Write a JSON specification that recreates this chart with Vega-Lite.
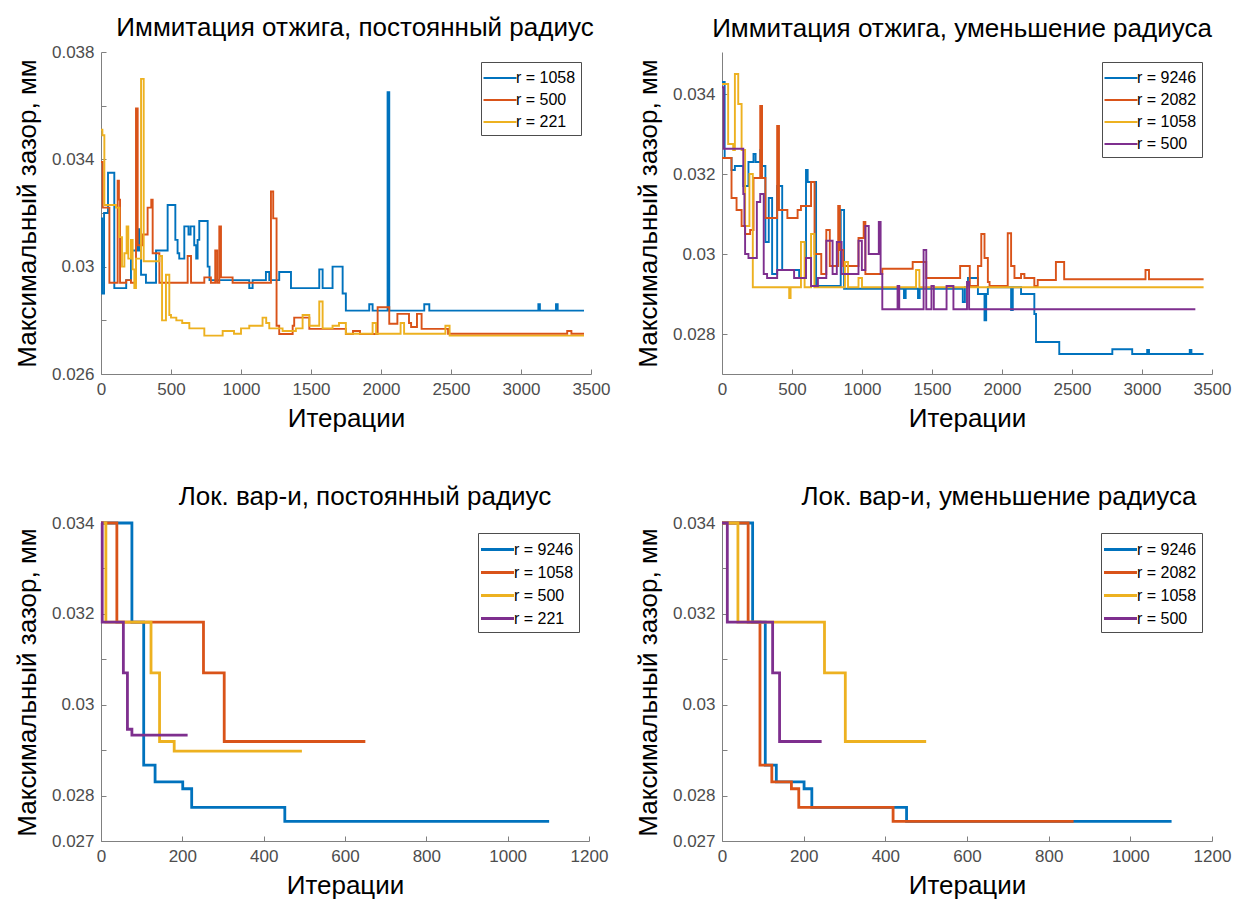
{
  "$schema": "https://vega.github.io/schema/vega-lite/v6.json",
  "padding": {"left": 14, "top": 15, "right": 2, "bottom": 2},
  "background": "white",
  "columns": 2,
  "spacing": {"row": 149, "column": 131},
  "bounds": "flush",
  "resolve": {"scale": {"color": "independent"}, "legend": {"color": "independent"}},
  "datasets": {
    "tl": [
      {"it":0,"v":0.0318,"r":"r = 1058"},{"it":8,"v":0.0290,"r":"r = 1058"},{"it":22,"v":0.0320,"r":"r = 1058"},{"it":50,"v":0.0335,"r":"r = 1058"},{"it":95,"v":0.0292,"r":"r = 1058"},{"it":180,"v":0.0295,"r":"r = 1058"},{"it":214,"v":0.0306,"r":"r = 1058"},{"it":262,"v":0.0314,"r":"r = 1058"},{"it":274,"v":0.0306,"r":"r = 1058"},{"it":286,"v":0.0297,"r":"r = 1058"},{"it":321,"v":0.0294,"r":"r = 1058"},{"it":393,"v":0.0306,"r":"r = 1058"},{"it":476,"v":0.0323,"r":"r = 1058"},{"it":531,"v":0.0310,"r":"r = 1058"},{"it":547,"v":0.0305,"r":"r = 1058"},{"it":559,"v":0.0303,"r":"r = 1058"},{"it":595,"v":0.0315,"r":"r = 1058"},{"it":625,"v":0.0312,"r":"r = 1058"},{"it":640,"v":0.0315,"r":"r = 1058"},{"it":666,"v":0.0308,"r":"r = 1058"},{"it":680,"v":0.0303,"r":"r = 1058"},{"it":690,"v":0.0310,"r":"r = 1058"},{"it":702,"v":0.0317,"r":"r = 1058"},{"it":762,"v":0.0300,"r":"r = 1058"},{"it":775,"v":0.0295,"r":"r = 1058"},{"it":1059,"v":0.0292,"r":"r = 1058"},{"it":1083,"v":0.0295,"r":"r = 1058"},{"it":1178,"v":0.0298,"r":"r = 1058"},{"it":1202,"v":0.0295,"r":"r = 1058"},{"it":1273,"v":0.0298,"r":"r = 1058"},{"it":1357,"v":0.0292,"r":"r = 1058"},{"it":1559,"v":0.0299,"r":"r = 1058"},{"it":1583,"v":0.0292,"r":"r = 1058"},{"it":1654,"v":0.0300,"r":"r = 1058"},{"it":1726,"v":0.0290,"r":"r = 1058"},{"it":1749,"v":0.02836,"r":"r = 1058"},{"it":1916,"v":0.0286,"r":"r = 1058"},{"it":1940,"v":0.02836,"r":"r = 1058"},{"it":2047,"v":0.0365,"r":"r = 1058"},{"it":2059,"v":0.02836,"r":"r = 1058"},{"it":2309,"v":0.0286,"r":"r = 1058"},{"it":2345,"v":0.02836,"r":"r = 1058"},{"it":3124,"v":0.0286,"r":"r = 1058"},{"it":3135,"v":0.02836,"r":"r = 1058"},{"it":3250,"v":0.0286,"r":"r = 1058"},{"it":3262,"v":0.02836,"r":"r = 1058"},{"it":3450,"v":0.02836,"r":"r = 1058"},
      {"it":0,"v":0.0339,"r":"r = 500"},{"it":12,"v":0.0322,"r":"r = 500"},{"it":60,"v":0.0294,"r":"r = 500"},{"it":119,"v":0.0332,"r":"r = 500"},{"it":128,"v":0.0325,"r":"r = 500"},{"it":136,"v":0.0294,"r":"r = 500"},{"it":180,"v":0.0295,"r":"r = 500"},{"it":214,"v":0.0294,"r":"r = 500"},{"it":250,"v":0.0359,"r":"r = 500"},{"it":262,"v":0.0308,"r":"r = 500"},{"it":300,"v":0.0312,"r":"r = 500"},{"it":333,"v":0.0322,"r":"r = 500"},{"it":359,"v":0.0325,"r":"r = 500"},{"it":369,"v":0.0305,"r":"r = 500"},{"it":417,"v":0.0294,"r":"r = 500"},{"it":619,"v":0.0304,"r":"r = 500"},{"it":643,"v":0.0294,"r":"r = 500"},{"it":738,"v":0.0296,"r":"r = 500"},{"it":785,"v":0.0294,"r":"r = 500"},{"it":816,"v":0.0306,"r":"r = 500"},{"it":830,"v":0.0294,"r":"r = 500"},{"it":845,"v":0.0315,"r":"r = 500"},{"it":857,"v":0.0296,"r":"r = 500"},{"it":940,"v":0.0294,"r":"r = 500"},{"it":1214,"v":0.0328,"r":"r = 500"},{"it":1230,"v":0.0318,"r":"r = 500"},{"it":1254,"v":0.0278,"r":"r = 500"},{"it":1273,"v":0.02749,"r":"r = 500"},{"it":1369,"v":0.0278,"r":"r = 500"},{"it":1380,"v":0.0281,"r":"r = 500"},{"it":1488,"v":0.02768,"r":"r = 500"},{"it":1749,"v":0.02749,"r":"r = 500"},{"it":1800,"v":0.0276,"r":"r = 500"},{"it":1850,"v":0.02749,"r":"r = 500"},{"it":1976,"v":0.02849,"r":"r = 500"},{"it":2059,"v":0.02787,"r":"r = 500"},{"it":2117,"v":0.02824,"r":"r = 500"},{"it":2200,"v":0.0279,"r":"r = 500"},{"it":2215,"v":0.02775,"r":"r = 500"},{"it":2257,"v":0.02824,"r":"r = 500"},{"it":2290,"v":0.02768,"r":"r = 500"},{"it":2479,"v":0.0275,"r":"r = 500"},{"it":3300,"v":0.0275,"r":"r = 500"},{"it":3330,"v":0.0276,"r":"r = 500"},{"it":3360,"v":0.0275,"r":"r = 500"},{"it":3450,"v":0.0275,"r":"r = 500"},
      {"it":0,"v":0.0351,"r":"r = 221"},{"it":10,"v":0.0349,"r":"r = 221"},{"it":24,"v":0.0323,"r":"r = 221"},{"it":107,"v":0.0322,"r":"r = 221"},{"it":131,"v":0.0311,"r":"r = 221"},{"it":150,"v":0.0300,"r":"r = 221"},{"it":167,"v":0.0305,"r":"r = 221"},{"it":183,"v":0.0315,"r":"r = 221"},{"it":195,"v":0.0303,"r":"r = 221"},{"it":214,"v":0.0310,"r":"r = 221"},{"it":226,"v":0.0299,"r":"r = 221"},{"it":238,"v":0.0292,"r":"r = 221"},{"it":250,"v":0.0303,"r":"r = 221"},{"it":286,"v":0.0370,"r":"r = 221"},{"it":305,"v":0.0302,"r":"r = 221"},{"it":417,"v":0.0304,"r":"r = 221"},{"it":436,"v":0.0280,"r":"r = 221"},{"it":464,"v":0.0297,"r":"r = 221"},{"it":488,"v":0.0282,"r":"r = 221"},{"it":500,"v":0.0281,"r":"r = 221"},{"it":538,"v":0.0280,"r":"r = 221"},{"it":580,"v":0.0279,"r":"r = 221"},{"it":631,"v":0.0277,"r":"r = 221"},{"it":738,"v":0.02743,"r":"r = 221"},{"it":869,"v":0.0276,"r":"r = 221"},{"it":950,"v":0.0275,"r":"r = 221"},{"it":1000,"v":0.0277,"r":"r = 221"},{"it":1059,"v":0.0278,"r":"r = 221"},{"it":1154,"v":0.0281,"r":"r = 221"},{"it":1180,"v":0.0279,"r":"r = 221"},{"it":1202,"v":0.0277,"r":"r = 221"},{"it":1297,"v":0.0276,"r":"r = 221"},{"it":1392,"v":0.0277,"r":"r = 221"},{"it":1440,"v":0.0282,"r":"r = 221"},{"it":1488,"v":0.0278,"r":"r = 221"},{"it":1559,"v":0.0287,"r":"r = 221"},{"it":1583,"v":0.0277,"r":"r = 221"},{"it":1654,"v":0.0278,"r":"r = 221"},{"it":1700,"v":0.0279,"r":"r = 221"},{"it":1749,"v":0.0275,"r":"r = 221"},{"it":1940,"v":0.0279,"r":"r = 221"},{"it":1965,"v":0.0275,"r":"r = 221"},{"it":2140,"v":0.0279,"r":"r = 221"},{"it":2165,"v":0.0275,"r":"r = 221"},{"it":2460,"v":0.0278,"r":"r = 221"},{"it":2490,"v":0.02743,"r":"r = 221"},{"it":3450,"v":0.02743,"r":"r = 221"}
    ],
    "tr": [
      {"it":0,"v":0.0343,"r":"r = 9246"},{"it":19,"v":0.0324,"r":"r = 9246"},{"it":68,"v":0.0321,"r":"r = 9246"},{"it":92,"v":0.0322,"r":"r = 9246"},{"it":152,"v":0.0317,"r":"r = 9246"},{"it":189,"v":0.0323,"r":"r = 9246"},{"it":225,"v":0.0325,"r":"r = 9246"},{"it":240,"v":0.0323,"r":"r = 9246"},{"it":274,"v":0.0326,"r":"r = 9246"},{"it":286,"v":0.0322,"r":"r = 9246"},{"it":310,"v":0.0303,"r":"r = 9246"},{"it":334,"v":0.0314,"r":"r = 9246"},{"it":358,"v":0.0295,"r":"r = 9246"},{"it":394,"v":0.0317,"r":"r = 9246"},{"it":430,"v":0.0296,"r":"r = 9246"},{"it":551,"v":0.0294,"r":"r = 9246"},{"it":600,"v":0.0321,"r":"r = 9246"},{"it":612,"v":0.0318,"r":"r = 9246"},{"it":672,"v":0.0292,"r":"r = 9246"},{"it":840,"v":0.0292,"r":"r = 9246"},{"it":848,"v":0.0311,"r":"r = 9246"},{"it":872,"v":0.02913,"r":"r = 9246"},{"it":1300,"v":0.0289,"r":"r = 9246"},{"it":1312,"v":0.02913,"r":"r = 9246"},{"it":1400,"v":0.0289,"r":"r = 9246"},{"it":1412,"v":0.02913,"r":"r = 9246"},{"it":1720,"v":0.0288,"r":"r = 9246"},{"it":1735,"v":0.02917,"r":"r = 9246"},{"it":1757,"v":0.0294,"r":"r = 9246"},{"it":1828,"v":0.0290,"r":"r = 9246"},{"it":1875,"v":0.02834,"r":"r = 9246"},{"it":1887,"v":0.0290,"r":"r = 9246"},{"it":1899,"v":0.02917,"r":"r = 9246"},{"it":2065,"v":0.0286,"r":"r = 9246"},{"it":2077,"v":0.02917,"r":"r = 9246"},{"it":2136,"v":0.0290,"r":"r = 9246"},{"it":2231,"v":0.0285,"r":"r = 9246"},{"it":2243,"v":0.0278,"r":"r = 9246"},{"it":2409,"v":0.0275,"r":"r = 9246"},{"it":2788,"v":0.02762,"r":"r = 9246"},{"it":2930,"v":0.0275,"r":"r = 9246"},{"it":3037,"v":0.0276,"r":"r = 9246"},{"it":3050,"v":0.0275,"r":"r = 9246"},{"it":3341,"v":0.0276,"r":"r = 9246"},{"it":3353,"v":0.0275,"r":"r = 9246"},{"it":3440,"v":0.0275,"r":"r = 9246"},
      {"it":0,"v":0.0324,"r":"r = 2082"},{"it":68,"v":0.0314,"r":"r = 2082"},{"it":104,"v":0.0311,"r":"r = 2082"},{"it":140,"v":0.0307,"r":"r = 2082"},{"it":165,"v":0.0305,"r":"r = 2082"},{"it":201,"v":0.0306,"r":"r = 2082"},{"it":225,"v":0.0319,"r":"r = 2082"},{"it":273,"v":0.0337,"r":"r = 2082"},{"it":286,"v":0.0319,"r":"r = 2082"},{"it":310,"v":0.0309,"r":"r = 2082"},{"it":394,"v":0.0332,"r":"r = 2082"},{"it":407,"v":0.0311,"r":"r = 2082"},{"it":467,"v":0.0309,"r":"r = 2082"},{"it":540,"v":0.0311,"r":"r = 2082"},{"it":564,"v":0.0312,"r":"r = 2082"},{"it":636,"v":0.0318,"r":"r = 2082"},{"it":661,"v":0.0300,"r":"r = 2082"},{"it":709,"v":0.0295,"r":"r = 2082"},{"it":745,"v":0.0306,"r":"r = 2082"},{"it":770,"v":0.0297,"r":"r = 2082"},{"it":830,"v":0.0312,"r":"r = 2082"},{"it":842,"v":0.0301,"r":"r = 2082"},{"it":866,"v":0.0297,"r":"r = 2082"},{"it":975,"v":0.0304,"r":"r = 2082"},{"it":1012,"v":0.0308,"r":"r = 2082"},{"it":1024,"v":0.0295,"r":"r = 2082"},{"it":1145,"v":0.02963,"r":"r = 2082"},{"it":1362,"v":0.0298,"r":"r = 2082"},{"it":1459,"v":0.0294,"r":"r = 2082"},{"it":1701,"v":0.0297,"r":"r = 2082"},{"it":1770,"v":0.0292,"r":"r = 2082"},{"it":1828,"v":0.0297,"r":"r = 2082"},{"it":1852,"v":0.0305,"r":"r = 2082"},{"it":1875,"v":0.0299,"r":"r = 2082"},{"it":1899,"v":0.0293,"r":"r = 2082"},{"it":1911,"v":0.0292,"r":"r = 2082"},{"it":2041,"v":0.03052,"r":"r = 2082"},{"it":2065,"v":0.0297,"r":"r = 2082"},{"it":2089,"v":0.0294,"r":"r = 2082"},{"it":2136,"v":0.0295,"r":"r = 2082"},{"it":2160,"v":0.0294,"r":"r = 2082"},{"it":2231,"v":0.0292,"r":"r = 2082"},{"it":2255,"v":0.02935,"r":"r = 2082"},{"it":2385,"v":0.0298,"r":"r = 2082"},{"it":2444,"v":0.02937,"r":"r = 2082"},{"it":3025,"v":0.0296,"r":"r = 2082"},{"it":3050,"v":0.02937,"r":"r = 2082"},{"it":3440,"v":0.02937,"r":"r = 2082"},
      {"it":0,"v":0.03425,"r":"r = 1058"},{"it":44,"v":0.03275,"r":"r = 1058"},{"it":80,"v":0.0326,"r":"r = 1058"},{"it":92,"v":0.0345,"r":"r = 1058"},{"it":116,"v":0.03375,"r":"r = 1058"},{"it":140,"v":0.0326,"r":"r = 1058"},{"it":165,"v":0.0307,"r":"r = 1058"},{"it":196,"v":0.0320,"r":"r = 1058"},{"it":220,"v":0.02917,"r":"r = 1058"},{"it":480,"v":0.0289,"r":"r = 1058"},{"it":490,"v":0.02917,"r":"r = 1058"},{"it":564,"v":0.0303,"r":"r = 1058"},{"it":590,"v":0.02917,"r":"r = 1058"},{"it":636,"v":0.0305,"r":"r = 1058"},{"it":660,"v":0.02917,"r":"r = 1058"},{"it":878,"v":0.0298,"r":"r = 1058"},{"it":900,"v":0.02917,"r":"r = 1058"},{"it":975,"v":0.0294,"r":"r = 1058"},{"it":1000,"v":0.02917,"r":"r = 1058"},{"it":1386,"v":0.0296,"r":"r = 1058"},{"it":1410,"v":0.02917,"r":"r = 1058"},{"it":3440,"v":0.02917,"r":"r = 1058"},
      {"it":0,"v":0.03417,"r":"r = 500"},{"it":12,"v":0.03263,"r":"r = 500"},{"it":152,"v":0.0315,"r":"r = 500"},{"it":160,"v":0.0307,"r":"r = 500"},{"it":165,"v":0.0300,"r":"r = 500"},{"it":189,"v":0.0299,"r":"r = 500"},{"it":249,"v":0.0313,"r":"r = 500"},{"it":273,"v":0.0315,"r":"r = 500"},{"it":298,"v":0.0295,"r":"r = 500"},{"it":322,"v":0.0294,"r":"r = 500"},{"it":394,"v":0.0296,"r":"r = 500"},{"it":515,"v":0.0294,"r":"r = 500"},{"it":600,"v":0.0299,"r":"r = 500"},{"it":636,"v":0.0292,"r":"r = 500"},{"it":685,"v":0.0294,"r":"r = 500"},{"it":745,"v":0.03033,"r":"r = 500"},{"it":790,"v":0.0295,"r":"r = 500"},{"it":820,"v":0.0303,"r":"r = 500"},{"it":854,"v":0.0295,"r":"r = 500"},{"it":975,"v":0.03033,"r":"r = 500"},{"it":999,"v":0.0296,"r":"r = 500"},{"it":1024,"v":0.0307,"r":"r = 500"},{"it":1048,"v":0.0300,"r":"r = 500"},{"it":1120,"v":0.0308,"r":"r = 500"},{"it":1133,"v":0.0295,"r":"r = 500"},{"it":1145,"v":0.02862,"r":"r = 500"},{"it":1254,"v":0.0292,"r":"r = 500"},{"it":1266,"v":0.02862,"r":"r = 500"},{"it":1440,"v":0.0301,"r":"r = 500"},{"it":1459,"v":0.02862,"r":"r = 500"},{"it":1496,"v":0.0292,"r":"r = 500"},{"it":1513,"v":0.02862,"r":"r = 500"},{"it":1604,"v":0.0292,"r":"r = 500"},{"it":1653,"v":0.02862,"r":"r = 500"},{"it":1750,"v":0.0293,"r":"r = 500"},{"it":1765,"v":0.02862,"r":"r = 500"},{"it":3381,"v":0.02862,"r":"r = 500"}
    ],
    "bl": [
      {"it":0,"v":0.034,"r":"r = 9246"},{"it":76,"v":0.03182,"r":"r = 9246"},{"it":105,"v":0.02867,"r":"r = 9246"},{"it":133,"v":0.0283,"r":"r = 9246"},{"it":201,"v":0.02815,"r":"r = 9246"},{"it":223,"v":0.02774,"r":"r = 9246"},{"it":452,"v":0.02743,"r":"r = 9246"},{"it":1102,"v":0.02743,"r":"r = 9246"},
      {"it":0,"v":0.034,"r":"r = 1058"},{"it":39,"v":0.03182,"r":"r = 1058"},{"it":252,"v":0.0307,"r":"r = 1058"},{"it":303,"v":0.02919,"r":"r = 1058"},{"it":650,"v":0.02919,"r":"r = 1058"},
      {"it":0,"v":0.034,"r":"r = 500"},{"it":12,"v":0.03182,"r":"r = 500"},{"it":123,"v":0.0307,"r":"r = 500"},{"it":144,"v":0.02919,"r":"r = 500"},{"it":180,"v":0.02898,"r":"r = 500"},{"it":494,"v":0.02898,"r":"r = 500"},
      {"it":0,"v":0.034,"r":"r = 221"},{"it":3,"v":0.03182,"r":"r = 221"},{"it":55,"v":0.0307,"r":"r = 221"},{"it":65,"v":0.02946,"r":"r = 221"},{"it":76,"v":0.02933,"r":"r = 221"},{"it":213,"v":0.02933,"r":"r = 221"}
    ],
    "br": [
      {"it":0,"v":0.034,"r":"r = 9246"},{"it":75,"v":0.03182,"r":"r = 9246"},{"it":106,"v":0.02867,"r":"r = 9246"},{"it":133,"v":0.0283,"r":"r = 9246"},{"it":201,"v":0.02815,"r":"r = 9246"},{"it":220,"v":0.02774,"r":"r = 9246"},{"it":452,"v":0.02743,"r":"r = 9246"},{"it":1101,"v":0.02743,"r":"r = 9246"},
      {"it":0,"v":0.034,"r":"r = 2082"},{"it":64,"v":0.03182,"r":"r = 2082"},{"it":93,"v":0.02867,"r":"r = 2082"},{"it":122,"v":0.0283,"r":"r = 2082"},{"it":170,"v":0.02815,"r":"r = 2082"},{"it":188,"v":0.02774,"r":"r = 2082"},{"it":419,"v":0.02743,"r":"r = 2082"},{"it":861,"v":0.02743,"r":"r = 2082"},
      {"it":0,"v":0.034,"r":"r = 1058"},{"it":39,"v":0.03182,"r":"r = 1058"},{"it":251,"v":0.0307,"r":"r = 1058"},{"it":302,"v":0.02919,"r":"r = 1058"},{"it":500,"v":0.02919,"r":"r = 1058"},
      {"it":0,"v":0.034,"r":"r = 500"},{"it":13,"v":0.03182,"r":"r = 500"},{"it":124,"v":0.0307,"r":"r = 500"},{"it":141,"v":0.02919,"r":"r = 500"},{"it":244,"v":0.02919,"r":"r = 500"}
    ]
  },
  "concat": [
    {
      "width": 490, "height": 322,
      "title": {"text": "Иммитация отжига, постоянный радиус", "dx": 9, "offset": 2},
      "data": {"name": "tl"},
      "mark": {"type": "line", "interpolate": "step-after", "strokeWidth": 1.9},
      "encoding": {
        "x": {"field": "it", "type": "quantitative", "scale": {"domain": [0, 3500], "nice": false}, "axis": {"title": "Итерации", "format": "d", "values": [0, 500, 1000, 1500, 2000, 2500, 3000, 3500]}},
        "y": {"field": "v", "type": "quantitative", "scale": {"domain": [0.026, 0.038], "nice": false, "zero": false}, "axis": {"title": "Максимальный зазор, мм", "values": [0.026, 0.028, 0.03, 0.032, 0.034, 0.036, 0.038], "labelExpr": "indexof(['0.026','0.03','0.034','0.038'], format(datum.value, '.3~f')) >= 0 ? format(datum.value, '.3~f') : ''"}},
        "color": {"field": "r", "type": "nominal", "scale": {"domain": ["r = 1058", "r = 500", "r = 221"], "range": ["#0072BD", "#D95319", "#EDB120"]}, "legend": {"title": null, "orient": "top-right", "offset": 10}}
      }
    },
    {
      "width": 490, "height": 322,
      "title": {"text": "Иммитация отжига, уменьшение радиуса", "dx": -5, "offset": 10},
      "data": {"name": "tr"},
      "mark": {"type": "line", "interpolate": "step-after", "strokeWidth": 1.9},
      "encoding": {
        "x": {"field": "it", "type": "quantitative", "scale": {"domain": [0, 3500], "nice": false}, "axis": {"title": "Итерации", "format": "d", "values": [0, 500, 1000, 1500, 2000, 2500, 3000, 3500]}},
        "y": {"field": "v", "type": "quantitative", "scale": {"domain": [0.027, 0.03505], "nice": false, "zero": false}, "axis": {"title": "Максимальный зазор, мм", "values": [0.028, 0.03, 0.032, 0.034], "format": ".3~f"}},
        "color": {"field": "r", "type": "nominal", "scale": {"domain": ["r = 9246", "r = 2082", "r = 1058", "r = 500"], "range": ["#0072BD", "#D95319", "#EDB120", "#7E2F8E"]}, "legend": {"title": null, "orient": "top-right", "offset": 10}}
      }
    },
    {
      "width": 488, "height": 318,
      "title": {"text": "Лок. вар-и, постоянный радиус", "dx": 20, "offset": 4},
      "data": {"name": "bl"},
      "mark": {"type": "line", "interpolate": "step-after", "strokeWidth": 2.8},
      "encoding": {
        "x": {"field": "it", "type": "quantitative", "scale": {"domain": [0, 1200], "nice": false}, "axis": {"title": "Итерации", "format": "d", "values": [0, 200, 400, 600, 800, 1000, 1200]}},
        "y": {"field": "v", "type": "quantitative", "scale": {"domain": [0.027, 0.034], "nice": false, "zero": false}, "axis": {"title": "Максимальный зазор, мм", "values": [0.027, 0.028, 0.029, 0.03, 0.031, 0.032, 0.033, 0.034], "labelExpr": "indexof(['0.027','0.028','0.03','0.032','0.034'], format(datum.value, '.3~f')) >= 0 ? format(datum.value, '.3~f') : ''"}},
        "color": {"field": "r", "type": "nominal", "scale": {"domain": ["r = 9246", "r = 1058", "r = 500", "r = 221"], "range": ["#0072BD", "#D95319", "#EDB120", "#7E2F8E"]}, "legend": {"title": null, "orient": "top-right", "offset": 10, "symbolStrokeWidth": 3}}
      }
    },
    {
      "width": 490, "height": 318,
      "title": {"text": "Лок. вар-и, уменьшение радиуса", "dx": 32, "offset": 4},
      "data": {"name": "br"},
      "mark": {"type": "line", "interpolate": "step-after", "strokeWidth": 2.8},
      "encoding": {
        "x": {"field": "it", "type": "quantitative", "scale": {"domain": [0, 1200], "nice": false}, "axis": {"title": "Итерации", "format": "d", "values": [0, 200, 400, 600, 800, 1000, 1200]}},
        "y": {"field": "v", "type": "quantitative", "scale": {"domain": [0.027, 0.034], "nice": false, "zero": false}, "axis": {"title": "Максимальный зазор, мм", "values": [0.027, 0.028, 0.029, 0.03, 0.031, 0.032, 0.033, 0.034], "labelExpr": "indexof(['0.027','0.028','0.03','0.032','0.034'], format(datum.value, '.3~f')) >= 0 ? format(datum.value, '.3~f') : ''"}},
        "color": {"field": "r", "type": "nominal", "scale": {"domain": ["r = 9246", "r = 2082", "r = 1058", "r = 500"], "range": ["#0072BD", "#D95319", "#EDB120", "#7E2F8E"]}, "legend": {"title": null, "orient": "top-right", "offset": 10, "symbolStrokeWidth": 3}}
      }
    }
  ],
  "config": {
    "font": "Liberation Sans",
    "view": {"stroke": null},
    "title": {"fontSize": 26, "fontWeight": "normal", "color": "#000000", "anchor": "middle", "frame": "group", "baseline": "alphabetic"},
    "axis": {
      "grid": false,
      "domainColor": "#808080",
      "tickColor": "#808080",
      "tickSize": -5,
      "labelPadding": 12,
      "labelFontSize": 17,
      "labelColor": "#4d4d4d",
      "labelFlush": false,
      "labelOverlap": false,
      "titleFontSize": 26,
      "titleFontWeight": "normal",
      "titleColor": "#000000"
    },
    "axisY": {"titlePadding": 11},
    "axisX": {"titlePadding": 8},
    "legend": {
      "strokeColor": "#4d4d4d",
      "fillColor": "#ffffff",
      "padding": 5,
      "symbolType": "M-1.65,0H1.65",
      "symbolSize": 400,
      "symbolOffset": 3,
      "symbolStrokeWidth": 2,
      "labelFontSize": 16,
      "labelColor": "#000000",
      "labelOffset": 5,
      "rowPadding": 3
    }
  }
}
